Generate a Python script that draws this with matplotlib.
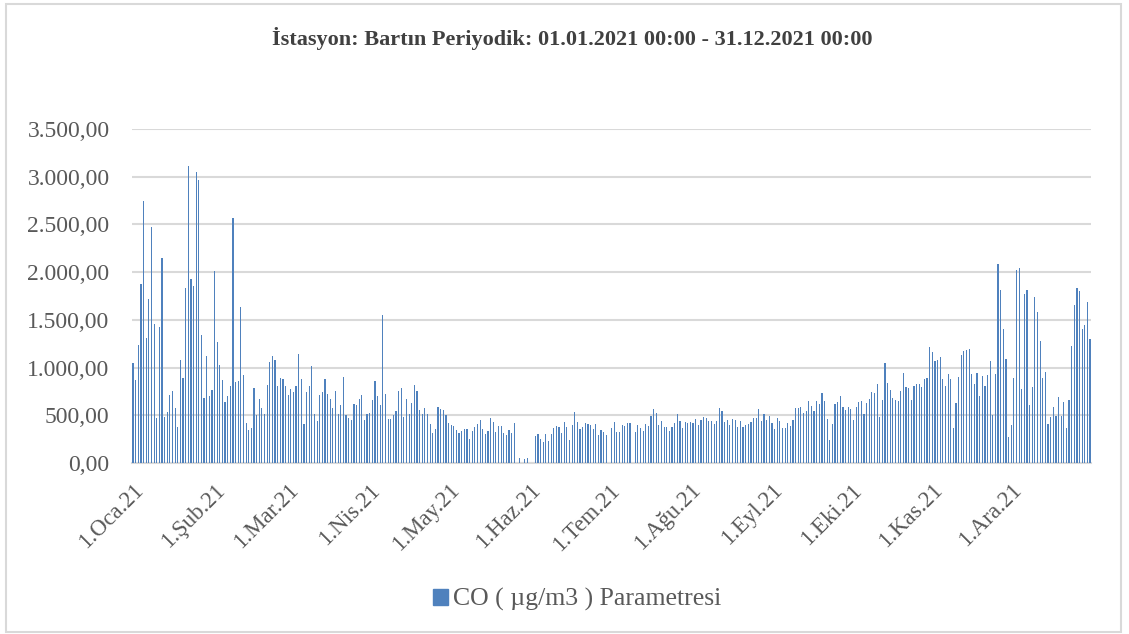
import numpy as np
import matplotlib.pyplot as plt
from matplotlib.ticker import FuncFormatter
from matplotlib.patches import Rectangle, Patch

nan = np.nan

# daily CO values (µg/m3), 2021
oca = [1045, 871, 1233, 1878, 2742, 1306, 1721, 2470, 1456, 474, 1428, 2153, 477, 530, 711, 756,
       578, 380, 1080, 895, 1829, 3108, 1930, 1850, 3052, 2961, 1345, 686, 1122, 704, 766]
sub = [2010, 1265, 1031, 871, 638, 704, 805, 2564, 854, 861, 1634, 927, 421, 348, 362, 787, 507,
       668, 580, 518, 815, 1056, 1126, 1077, 804, 888, 878, 804]
mar = [710, 780, 741, 811, 1147, 878, 409, 741, 804, 1014, 518, 437, 710, 741, 878, 727, 668, 580,
       759, 518, 612, 906, 500, 476, 448, 622, 612, 675, 717, 448, 511]
nis = [528, 664, 864, 699, 612, 1556, 727, 458, 458, 500, 549, 759, 783, 486, 671, 514, 633, 815,
       752, 560, 514, 573, 514, 409, 315, 360, 584, 567, 553, 500]
may = [423, 395, 388, 346, 315, 332, 357, 357, 248, 336, 378, 406, 448, 360, 301, 339, 472, 427,
       322, 388, 388, 318, 297, 346, 311, 423, nan, 56, nan, 45, 56]
haz = [nan, nan, 283, 304, 248, 224, 304, 234, 308, 371, 388, 381, 315, 434, 374, 245, 402, 532,
       434, 360, 378, 423, 409, 402, 357, 409, 297, 346, 325, 294]
tem = [nan, 371, 427, 329, 322, 402, 392, 420, 420, nan, 325, 402, 367, 339, 406, 392, 497, 570,
       525, 402, 441, 374, 378, 336, 378, 420, 518, 441, 367, 430, 420]
agu = [434, 420, 462, 395, 451, 486, 469, 437, 441, 409, 444, 577, 549, 434, 455, 402, 465, 451,
       378, 437, 374, 402, 406, 427, 476, 476, 570, 437, 511, 455, 490]
eyl = [423, 360, 476, 441, 367, 367, 416, 385, 448, 581, 577, 591, 528, 549, 654, 601, 549, 647,
       622, 738, 650, 465, 245, 413, 619, 640, 706, 591, 556, 587]
eki = [563, 455, 584, 643, 654, 518, 626, 671, 748, 738, 832, 479, 664, 1053, 836, 769, 682, 664,
       654, 755, 944, 801, 790, 661, 808, 829, 829, 801, 878, 888, 1220]
kas = [1161, 1074, 1084, 1115, 885, 811, 930, 885, 367, 629, 902, 1137, 1178, 1185, 1192, 930, 825,
       941, 699, 913, 808, 923, 1070, 507, 937, 2081, 1815, 1409, 1095, 276]
ara = [399, 888, 2025, 2042, 776, 1770, 1808, 608, 801, 1742, 1581, 1276, 892, 955, 413, 486, 591,
       497, 689, 497, 640, 364, 661, 1224, 1658, 1836, 1804, 1409, 1448, 1686, 1301]

month_labels = ['1.Oca.21', '1.Şub.21', '1.Mar.21', '1.Nis.21', '1.May.21', '1.Haz.21',
                '1.Tem.21', '1.Ağu.21', '1.Eyl.21', '1.Eki.21', '1.Kas.21', '1.Ara.21']

months = [oca, sub, mar, nis, may, haz, tem, agu, eyl, eki, kas, ara]
values = np.array([v for m in months for v in m], dtype=float)
days = np.arange(len(values))
month_starts = np.cumsum([0] + [len(m) for m in months[:-1]])

plt.rcParams['font.family'] = ['Liberation Serif', 'DejaVu Serif']

fig = plt.figure(figsize=(11.29, 6.34), dpi=100)
ax = fig.add_axes([0.1167, 0.2697, 0.85, 0.5268])

ok = ~np.isnan(values)
ax.bar(days[ok], values[ok], width=0.45, color='#4f81bd', zorder=3)

ax.set_xlim(-0.5, len(values) - 0.5)
ax.set_ylim(0, 3500)
ax.set_yticks(np.arange(0, 3501, 500))
ax.yaxis.set_major_formatter(FuncFormatter(
    lambda v, p: f'{v:,.2f}'.replace(',', 'X').replace('.', ',').replace('X', '.')))
ax.grid(axis='y', color='#d9d9d9', linewidth=1.5, zorder=0)
for s in ['top', 'right', 'left']:
    ax.spines[s].set_visible(False)
ax.spines['bottom'].set_color('#d9d9d9')
ax.spines['bottom'].set_linewidth(1.5)
ax.tick_params(axis='both', length=0, colors='#595959')
ax.tick_params(axis='y', labelsize=17, pad=16)

ax.set_xticks(month_starts)
ax.set_xticklabels(month_labels, rotation=45, ha='right', rotation_mode='anchor', fontsize=16.5)
ax.tick_params(axis='x', pad=12)

fig.text(0.507, 0.94, 'İstasyon: Bartın Periyodik: 01.01.2021 00:00 - 31.12.2021 00:00',
         ha='center', va='center', fontsize=16, fontweight='bold', color='#404040')

fig.legend(handles=[Patch(color='#4f81bd', label='CO ( µg/m3 ) Parametresi')],
           loc='center', bbox_to_anchor=(0.511, 0.054), frameon=False, fontsize=18.5,
           handlelength=0.6, handleheight=0.6, handletextpad=0.2, labelcolor='#595959')

fig.patches.append(Rectangle((0.005, 0.003), 0.988, 0.99, transform=fig.transFigure,
                             fill=False, edgecolor='#d9d9d9', linewidth=1.5))

fig.savefig('out.png', dpi=100, facecolor='white')
